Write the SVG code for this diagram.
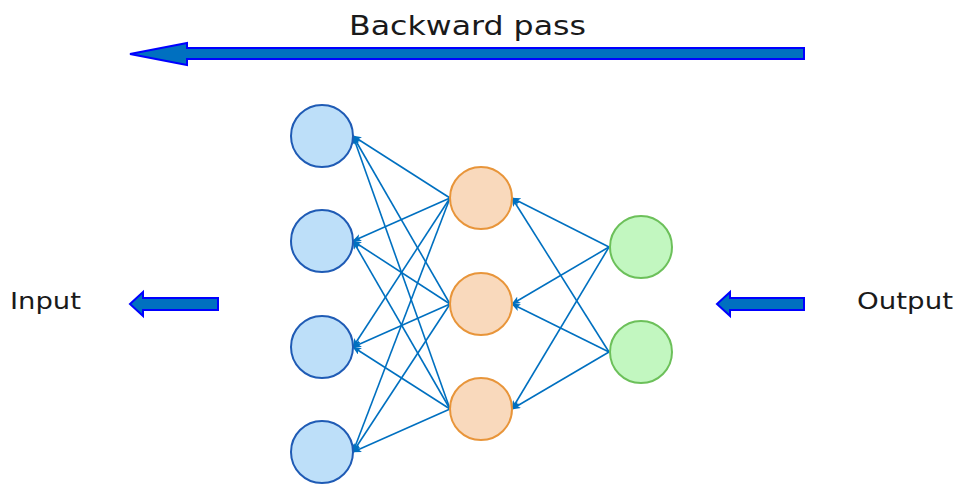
<svg xmlns="http://www.w3.org/2000/svg" width="957" height="484" viewBox="0 0 957 484">
  <style>
    .lbl { font-family: "DejaVu Sans", "Liberation Sans", sans-serif; fill: #1a1a1a; }
    .big { fill: #0070C0; stroke: #0000FF; stroke-width: 2; }
    .in  { fill: #BDDFF9; stroke: #1F5BB5; stroke-width: 2; }
    .hid { fill: #F9D9BC; stroke: #E8953A; stroke-width: 2; }
    .out { fill: #C2F7C0; stroke: #6CC05A; stroke-width: 2; }
    .edge { stroke: #0070C0; stroke-width: 1.6; fill: none; marker-end: url(#tip); }
  </style>
  <defs>
    <marker id="tip" viewBox="0 0 12 10" refX="11" refY="5" markerWidth="9" markerHeight="7.5" orient="auto" markerUnits="userSpaceOnUse">
      <path d="M0,0 L12,5 L0,10 L3,5 Z" fill="#0070C0"/>
    </marker>
  </defs>

  <!-- title and side labels -->
  <text class="lbl" x="349" y="35" font-size="27" textLength="237" lengthAdjust="spacingAndGlyphs">Backward pass</text>
  <text class="lbl" x="10" y="309" font-size="23" textLength="71" lengthAdjust="spacingAndGlyphs">Input</text>
  <text class="lbl" x="857" y="309" font-size="23" textLength="96" lengthAdjust="spacingAndGlyphs">Output</text>

  <!-- block arrows -->
  <path class="big" d="M804,48 L187,48 L187,43 L130,54 L187,65 L187,59 L804,59 Z"/>
  <path class="big" d="M218,298 L143,298 L143,292 L130,304 L143,316 L143,310 L218,310 Z"/>
  <path class="big" d="M804,298 L730,298 L730,292 L717,304 L730,316 L730,310 L804,310 Z"/>

  <!-- connectors -->
  <g id="connectors">
    <line class="edge" x1="450" y1="198" x2="353" y2="136"/>
    <line class="edge" x1="450" y1="198" x2="353" y2="241"/>
    <line class="edge" x1="450" y1="198" x2="353" y2="347"/>
    <line class="edge" x1="450" y1="198" x2="353" y2="452"/>
    <line class="edge" x1="450" y1="304" x2="353" y2="136"/>
    <line class="edge" x1="450" y1="304" x2="353" y2="241"/>
    <line class="edge" x1="450" y1="304" x2="353" y2="347"/>
    <line class="edge" x1="450" y1="304" x2="353" y2="452"/>
    <line class="edge" x1="450" y1="409" x2="353" y2="136"/>
    <line class="edge" x1="450" y1="409" x2="353" y2="241"/>
    <line class="edge" x1="450" y1="409" x2="353" y2="347"/>
    <line class="edge" x1="450" y1="409" x2="353" y2="452"/>
    <line class="edge" x1="609" y1="247" x2="512" y2="198"/>
    <line class="edge" x1="609" y1="247" x2="512" y2="304"/>
    <line class="edge" x1="609" y1="247" x2="512" y2="409"/>
    <line class="edge" x1="609" y1="352" x2="512" y2="198"/>
    <line class="edge" x1="609" y1="352" x2="512" y2="304"/>
    <line class="edge" x1="609" y1="352" x2="512" y2="409"/>
  </g>

  <!-- input layer -->
  <g id="in1"><circle class="in" cx="322" cy="136" r="31"/></g>
  <g id="in2"><circle class="in" cx="322" cy="241" r="31"/></g>
  <g id="in3"><circle class="in" cx="322" cy="347" r="31"/></g>
  <g id="in4"><circle class="in" cx="322" cy="452" r="31"/></g>

  <!-- hidden layer -->
  <g id="h1"><circle class="hid" cx="481" cy="198" r="31"/></g>
  <g id="h2"><circle class="hid" cx="481" cy="304" r="31"/></g>
  <g id="h3"><circle class="hid" cx="481" cy="409" r="31"/></g>

  <!-- output layer -->
  <g id="o1"><circle class="out" cx="641" cy="247" r="31"/></g>
  <g id="o2"><circle class="out" cx="641" cy="352" r="31"/></g>
</svg>
